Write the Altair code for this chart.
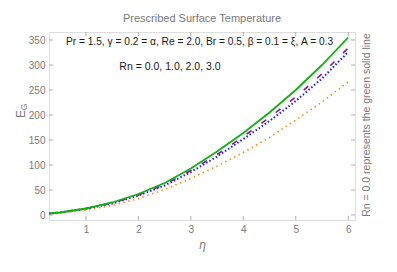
import altair as alt
import pandas as pd

eta = [0.3, 0.5, 1.0, 1.5, 2.0, 2.5, 3.0, 3.5, 4.0, 4.5, 5.0, 5.5, 6.0]
rn0_green = [3, 5, 13, 25, 42, 64, 93, 127, 164, 205, 250, 300, 355]
rn1_purple = [3, 5, 13, 24, 40, 61, 89, 121, 157, 195, 236, 282, 334]
rn2_blue = [3, 5, 12.5, 23, 39, 59, 86, 117, 152, 188, 228, 273, 326]
rn3_orange = [2.5, 4, 10, 19, 33, 51, 73, 98, 125, 155, 190, 226, 266]

x_ticks = [1, 2, 3, 4, 5, 6]
y_ticks = [0, 50, 100, 150, 200, 250, 300, 350]

W, H = 306, 188
GRAY = "#7a7a7a"
FONT = "Liberation Sans"

xs = alt.Scale(domain=[0.295, 6.13], nice=False, zero=False)
ys = alt.Scale(domain=[-10, 366], nice=False, zero=False)

x_axis = alt.Axis(values=x_ticks, title="η", titleFontStyle="italic",
                  titleFont=FONT, titleFontSize=12, titleFontWeight="normal",
                  titleColor=GRAY, titlePadding=5, labelOverlap=False,
                  labelFont=FONT, labelFontSize=10, labelColor=GRAY,
                  labelPadding=4, tickSize=0, domain=False, grid=False)
y_axis = alt.Axis(values=y_ticks, title=None, labelOverlap=False,
                  labelFont=FONT, labelFontSize=10, labelColor=GRAY,
                  labelPadding=4, tickSize=0, domain=False, grid=False)

def series(vals, color, dash, width):
    df = pd.DataFrame({"eta": eta, "E": vals})
    kw = dict(color=color, strokeWidth=width, clip=True)
    if dash:
        kw["strokeDash"] = dash
    return alt.Chart(df).mark_line(**kw).encode(
        x=alt.X("eta:Q", scale=xs, axis=x_axis),
        y=alt.Y("E:Q", scale=ys, axis=y_axis),
    )

orange = series(rn3_orange, "#ff8c1a", [1.5, 3.5], 1.6)
blue = series(rn2_blue, "#1a1aff", [1.5, 2.2], 2)
purple = series(rn1_purple, "#8b1a9b", [6, 12], 1.6)
green = series(rn0_green, "#10b010", None, 1.8)

ydf = pd.DataFrame({"v": y_ticks})
xdf = pd.DataFrame({"v": x_ticks})
tick_style = dict(color="#999999", strokeWidth=0.8)
yl = alt.Chart(ydf).mark_rule(**tick_style).encode(y=alt.Y("v:Q", scale=ys, axis=y_axis), x=alt.value(0), x2=alt.value(4))
yr = alt.Chart(ydf).mark_rule(**tick_style).encode(y=alt.Y("v:Q", scale=ys, axis=y_axis), x=alt.value(W), x2=alt.value(W - 4))
xb = alt.Chart(xdf).mark_rule(**tick_style).encode(x=alt.X("v:Q", scale=xs, axis=x_axis), y=alt.value(H), y2=alt.value(H - 4))
xt = alt.Chart(xdf).mark_rule(**tick_style).encode(x=alt.X("v:Q", scale=xs, axis=x_axis), y=alt.value(0), y2=alt.value(4))

def label(text, x, y, size=11, color=GRAY, angle=0, align="center", style="normal"):
    return alt.Chart(pd.DataFrame({"t": [text]})).mark_text(
        font=FONT, fontSize=size, color=color, angle=angle, align=align,
        baseline="middle", fontStyle=style
    ).encode(text="t:N", x=alt.value(x), y=alt.value(y))

title = label("Prescribed Surface Temperature", 153, -13, size=11)
params = label("Pr = 1.5, γ = 0.2 = α, Re = 2.0, Br = 0.5, β = 0.1 = ξ, A = 0.3", 150.5, 10, size=10.2, color="#1a1a1a")
rn = label("Rn = 0.0, 1.0, 2.0, 3.0", 121, 35, size=10.5, color="#1a1a1a")
side = label("Rn = 0.0 represents the green solid line", 318, 93, size=10.5, angle=270)
ey = label("E", -28, 82, size=12, angle=270)
eg = label("G", -25, 75, size=8.5, angle=270)

chart = alt.layer(
    orange, blue, purple, green, yl, yr, xb, xt, title, params, rn, side, ey, eg
).properties(
    width=W, height=H,
    autosize=alt.AutoSizeParams(type="none"),
    padding={"left": 41, "top": 24, "right": 34, "bottom": 44},
).configure_view(stroke="#999999", strokeWidth=1).configure(background="white")

chart.save("out.html", embed_options={"renderer": "svg", "actions": False})
